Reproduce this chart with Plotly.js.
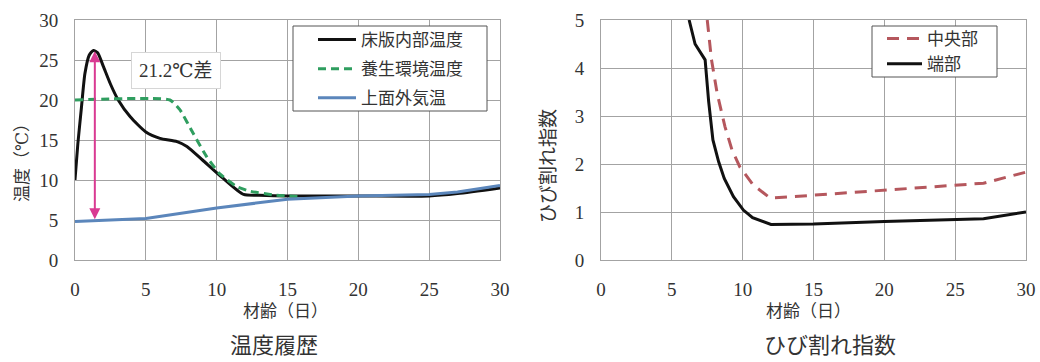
<!DOCTYPE html>
<html>
<head>
<meta charset="utf-8">
<script src="https://cdn.plot.ly/plotly-3.0.1.min.js"></script>
<style>
  html, body { margin: 0; padding: 0; background: #fff; }
  #chart { width: 1040px; height: 362px; }
</style>
</head>
<body>
<div id="chart"></div>
<script>
// Temperature history (left panel)
const slabAge   = [0, 0.2, 0.45, 0.7, 1.0, 1.3, 1.6, 2.0, 2.5, 3.05, 3.9, 5.0, 6.0, 7.2, 7.9, 9.0, 10.4, 11.9, 13.0, 15.0, 20, 25, 27, 30];
const slabTemp  = [10, 14.5, 19, 23.3, 25.6, 26.2, 25.9, 24.2, 22, 20, 17.9, 16, 15.2, 14.8, 14.2, 12.5, 10.3, 8.2, 8.1, 8.0, 8.0, 8.0, 8.3, 9.0];
const cureAge   = [0, 6.7, 7.4, 8.35, 9.3, 10.2, 11.4, 12.35, 14.2, 16];
const cureTemp  = [20, 20, 18.8, 15.8, 12.9, 10.8, 9.2, 8.6, 8.1, 7.9];
const airAge    = [0, 1.4, 5, 10, 15, 20, 25, 27, 30];
const airTemp   = [4.8, 4.9, 5.2, 6.5, 7.6, 8.0, 8.2, 8.5, 9.3];
const peakTemp  = 26.1;
const peakAge   = 1.4;
const tempDiff  = 21.2;

// Cracking index (right panel)
const centerAge = [7.5, 7.8, 8.2, 8.75, 9.25, 9.8, 10.75, 11.95, 15, 20, 25, 27, 30];
const centerIdx = [5.0, 4.17, 3.47, 2.78, 2.29, 1.94, 1.56, 1.29, 1.35, 1.46, 1.56, 1.6, 1.83];
const edgeAge   = [6.22, 6.64, 7.35, 7.6, 7.9, 8.3, 8.7, 9.35, 10.05, 10.7, 12.0, 15, 20, 25, 27, 30];
const edgeIdx   = [5.0, 4.5, 4.17, 3.3, 2.5, 2.05, 1.7, 1.32, 1.04, 0.88, 0.74, 0.75, 0.8, 0.84, 0.86, 1.0];

const tickAge   = [0, 5, 10, 15, 20, 25, 30];
const tickTemp  = [0, 5, 10, 15, 20, 25, 30];
const tickIdx   = [0, 1, 2, 3, 4, 5];

const NUM_FONT = 'Liberation Serif';
const FONT = 'Liberation Serif, DejaVu Serif, Noto Sans CJK JP';
const TEXT = '#333333';
const GRID = '#a3a3a3';

const W = 1040, PLOT_TOP = 20, PLOT_BOTTOM = 260, PLOT_H = 240;
const px = v => v / W;                        // horizontal pixel -> paper
const py = v => (PLOT_BOTTOM - v) / PLOT_H;   // vertical pixel -> paper

const traces = [
  { x: slabAge, y: slabTemp, name: '床版内部温度', mode: 'lines', xaxis: 'x', yaxis: 'y',
    legend: 'legend', legendgroup: 'a',
    line: { color: '#111111', width: 3, shape: 'spline', smoothing: 0.6 } },
  { x: cureAge, y: cureTemp, name: '養生環境温度', mode: 'lines', xaxis: 'x', yaxis: 'y',
    legend: 'legend', legendgroup: 'b',
    line: { color: '#2f9e5f', width: 3, dash: '8px,5px', shape: 'spline', smoothing: 0.5 } },
  { x: airAge, y: airTemp, name: '上面外気温', mode: 'lines', xaxis: 'x', yaxis: 'y',
    legend: 'legend', legendgroup: 'c',
    line: { color: '#5b86bb', width: 3 } },
  { x: centerAge, y: centerIdx, name: '中央部', mode: 'lines', xaxis: 'x2', yaxis: 'y2',
    legend: 'legend2', legendgroup: 'd',
    line: { color: '#b5575d', width: 3, dash: '12px,8px' } },
  { x: edgeAge, y: edgeIdx, name: '端部', mode: 'lines', xaxis: 'x2', yaxis: 'y2',
    legend: 'legend2', legendgroup: 'e',
    line: { color: '#111111', width: 3 } }
];

const axisBase = {
  showgrid: true, gridcolor: GRID, gridwidth: 1,
  showline: true, linecolor: GRID, linewidth: 1, mirror: true,
  zeroline: false, ticks: '', ticklabelstandoff: 12,
  tickfont: { family: NUM_FONT, size: 19, color: TEXT },
  fixedrange: true
};

const legendBase = {
  xanchor: 'left', yanchor: 'top',
  bgcolor: 'rgba(0,0,0,0)', borderwidth: 0,
  font: { family: FONT, size: 17, color: TEXT }
};

const centered = { showarrow: false, xanchor: 'center', yanchor: 'middle' };

const layout = {
  width: 1040, height: 362,
  margin: { l: 0, r: 0, t: PLOT_TOP, b: 362 - PLOT_BOTTOM },
  paper_bgcolor: '#ffffff', plot_bgcolor: '#ffffff',
  font: { family: FONT, color: TEXT },
  xaxis: Object.assign({}, axisBase, { domain: [px(75), px(500)], range: [0, 30], tickvals: tickAge, anchor: 'y' }),
  yaxis: Object.assign({}, axisBase, { domain: [0, 1], range: [0, 30], tickvals: tickTemp, anchor: 'x' }),
  xaxis2: Object.assign({}, axisBase, { domain: [px(601), px(1026)], range: [0, 30], tickvals: tickAge, anchor: 'y2' }),
  yaxis2: Object.assign({}, axisBase, { domain: [0, 1], range: [0, 5], tickvals: tickIdx, anchor: 'x2' }),
  showlegend: true,
  legend: Object.assign({}, legendBase, { x: px(313), y: py(22), itemwidth: 38, tracegroupgap: 4 }),
  legend2: Object.assign({}, legendBase, { x: px(882), y: py(21), itemwidth: 35, tracegroupgap: 0 }),
  shapes: [
    // legend frames
    { type: 'rect', xref: 'paper', yref: 'paper', layer: 'above',
      x0: px(293), x1: px(487), y0: py(111), y1: py(26),
      fillcolor: '#ffffff', line: { color: '#555555', width: 1 } },
    { type: 'rect', xref: 'paper', yref: 'paper', layer: 'above',
      x0: px(872), x1: px(997), y0: py(77), y1: py(26),
      fillcolor: '#ffffff', line: { color: '#555555', width: 1 } }
  ],
  annotations: [
    // double-headed arrow spanning the peak-to-ambient difference
    { xref: 'x', yref: 'y', axref: 'x', ayref: 'y',
      x: peakAge, y: peakTemp, ax: peakAge, ay: peakTemp - tempDiff,
      text: '', showarrow: true, arrowside: 'end+start', arrowhead: 2, startarrowhead: 2,
      arrowsize: 1.1, startarrowsize: 1.1, arrowwidth: 2, arrowcolor: '#d93a92' },
    Object.assign({}, centered, { xref: 'x', yref: 'y', x: 7.1, y: 23.75, text: tempDiff.toFixed(1) + '℃差',
      font: { family: FONT, size: 19, color: TEXT },
      bgcolor: '#ffffff', bordercolor: '#d6d6d6', borderwidth: 1, borderpad: 7 }),
    // axis titles
    Object.assign({}, centered, { xref: 'paper', yref: 'paper', x: px(285), y: py(311), text: '材齢（日）',
      font: { family: FONT, size: 17, color: TEXT } }),
    Object.assign({}, centered, { xref: 'paper', yref: 'paper', x: px(808), y: py(311), text: '材齢（日）',
      font: { family: FONT, size: 17, color: TEXT } }),
    Object.assign({}, centered, { xref: 'paper', yref: 'paper', x: px(22), y: py(159), text: '温度（℃）', textangle: -90,
      font: { family: FONT, size: 17, color: TEXT } }),
    Object.assign({}, centered, { xref: 'paper', yref: 'paper', x: px(548), y: py(166), text: 'ひび割れ指数', textangle: -90,
      font: { family: FONT, size: 19, color: TEXT } }),
    // panel captions
    Object.assign({}, centered, { xref: 'paper', yref: 'paper', x: px(274), y: py(345), text: '温度履歴',
      font: { family: FONT, size: 22, color: TEXT } }),
    Object.assign({}, centered, { xref: 'paper', yref: 'paper', x: px(830), y: py(345), text: 'ひび割れ指数',
      font: { family: FONT, size: 22, color: TEXT } })
  ]
};

Plotly.newPlot('chart', traces, layout, { staticPlot: true, displayModeBar: false });
</script>
</body>
</html>
